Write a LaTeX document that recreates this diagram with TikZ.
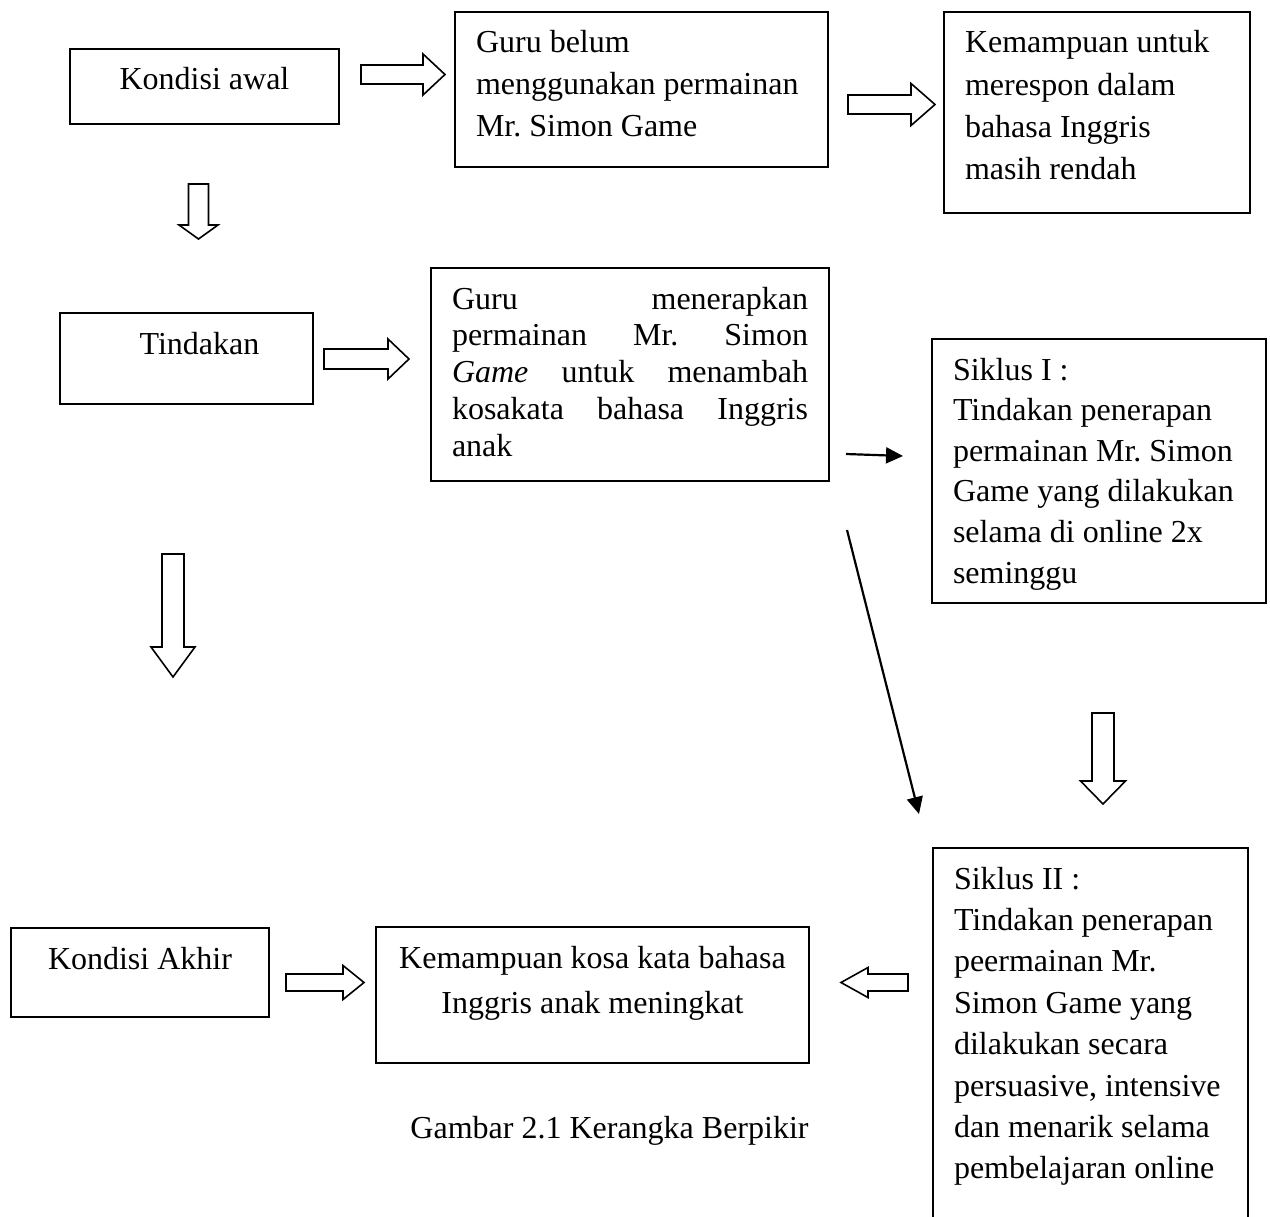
\documentclass[tikz,border=0pt]{standalone}
\usepackage{fontspec}
\setmainfont{Liberation Serif}
\usetikzlibrary{arrows.meta}
\usetikzlibrary{calc}
\frenchspacing
\tikzset{
	box/.style={
		draw=black,
		line width=2pt,
		anchor=north west,
		inner xsep=21pt,
		inner ysep=0pt,
		outer sep=0pt,
	},
	fat shaft/.store in=\fatshaft,
	fat head/.store in=\fathead,
	fat len/.store in=\fatlen,
	fat shaft=10pt,
	fat head=21pt,
	fat len=22pt,
	fat/.style={
		draw=black,
		line width=1.6pt,
		line join=miter,
		to path={
			($(\tikztostart)!\fatshaft!90:(\tikztotarget)$)
			-- ($(\tikztotarget)!\fatlen!(\tikztostart)!\fatshaft!-90:(\tikztostart)$)
			-- ($(\tikztotarget)!\fatlen!(\tikztostart)!\fathead!-90:(\tikztostart)$)
			-- (\tikztotarget)
			-- ($(\tikztotarget)!\fatlen!(\tikztostart)!\fathead!90:(\tikztostart)$)
			-- ($(\tikztotarget)!\fatlen!(\tikztostart)!\fatshaft!90:(\tikztostart)$)
			-- ($(\tikztostart)!\fatshaft!-90:(\tikztotarget)$)
			-- cycle
		},
	},
	arrow/.style={
		-{Triangle[length=17pt,width=16pt]},
		line width=2.2pt,
	},
}
% text block of a box: width, height, line skip, alignment, text
\newcommand{\inbox}[5]{\parbox[c][#2pt][t]{#1pt}{\fontsize{32}{#3}\selectfont#4\rule{0pt}{41pt}#5}}

\begin{document}
\begin{tikzpicture}[x=1pt, y=-1pt, font=\fontsize{32}{42}\selectfont]
		\useasboundingbox (0,0) rectangle (1270,1217);
		\clip (0,0) rectangle (1270,1217);

		% Kondisi awal
		\node[box] (ka) at (70,49) {\inbox{227}{75}{42}{\centering}{Kondisi awal}};
		\node[box] (g1) at (455,12) {\inbox{331}{155}{42}{\raggedright}{Guru belum\\menggunakan permainan\\Mr. Simon Game}};
		\node[box] (k1) at (944,12) {\inbox{264}{201}{42.3}{\raggedright}{Kemampuan untuk\\merespon dalam\\bahasa Inggris\\masih rendah}};

		% Tindakan
		\node[box] (td) at (60,313) {\inbox{211}{91}{42}{\centering}{\hspace*{26pt}Tindakan}};
		\node[box] (g2) at (431,268) {\inbox{356}{213}{36.8}{}{Guru menerapkan\linebreak permainan Mr. Simon\linebreak \textit{Game} untuk menambah\linebreak kosakata bahasa Inggris\linebreak anak}};
		\node[box] (s1) at (932,339) {\inbox{292}{264}{40.6}{\raggedright}{Siklus I :\\Tindakan penerapan\\permainan Mr. Simon\\Game yang dilakukan\\selama di online 2x\\seminggu}};

		% Kondisi akhir
		\node[box] (kk) at (11,928) {\inbox{216}{89}{42}{\centering}{Kondisi Akhir}};
		\node[box] (km) at (376,927) {\inbox{391}{136}{45}{\centering}{Kemampuan kosa kata bahasa\\Inggris anak meningkat}};
		\node[box] (s2) at (933,848) {\inbox{273}{420}{41.4}{\raggedright}{Siklus II :\\Tindakan penerapan\\peermainan Mr.\\Simon Game yang\\dilakukan secara\\persuasive, intensive\\dan menarik selama\\pembelajaran online}};

		\node[anchor=base] (cap) at (609.5,1138) {Gambar 2.1 Kerangka Berpikir};

		% arrow ends
		\coordinate (a1s) at ($(ka.east)+(22,-12)$);
		\coordinate (a1e) at ($(g1.west)+(-10,-15)$);
		\coordinate (a2s) at ($(g1.east)+(20,15)$);
		\coordinate (a2e) at ($(k1.west)+(-9,-8)$);
		\coordinate (a3s) at ($(ka.south)+(-6,60)$);
		\coordinate (a3e) at ($(td.north)+(12,-74)$);
		\coordinate (a4s) at ($(td.east)+(11,0.5)$);
		\coordinate (a4e) at ($(g2.west)+(-22,-15.5)$);
		\coordinate (a5s) at ($(td.south)+(-13.5,150)$);
		\coordinate (a5e) at ($(kk.north)+(33,-251)$);
		\coordinate (a6s) at ($(s1.south)+(4,110)$);
		\coordinate (a6e) at ($(s2.north)+(12.5,-44)$);
		\coordinate (a7s) at ($(kk.east)+(17,10)$);
		\coordinate (a7e) at ($(km.west)+(-12,-12.5)$);
		\coordinate (a8s) at ($(s2.west)+(-25,-75.5)$);
		\coordinate (a8e) at ($(km.east)+(32,-12.5)$);
		\coordinate (t1s) at ($(g2.east)+(17,79.5)$);
		\coordinate (t1e) at ($(s1.west)+(-29,-15)$);
		\coordinate (t2s) at ($(g2.south east)+(18,49)$);
		\coordinate (t2e) at ($(s2.north west)+(-14,-34)$);

		\draw[fat, fat shaft=9.5pt, fat head=20.5pt, fat len=22pt] (a1s) to (a1e);
		\draw[fat, fat shaft=9.5pt, fat head=21pt, fat len=24pt] (a2s) to (a2e);
		\draw[fat, fat shaft=10pt, fat head=19.5pt, fat len=14pt] (a3s) to (a3e);
		\draw[fat, fat shaft=10pt, fat head=20pt, fat len=21pt] (a4s) to (a4e);
		\draw[fat, fat shaft=11pt, fat head=22pt, fat len=30pt] (a5s) to (a5e);
		\draw[fat, fat shaft=11pt, fat head=22.5pt, fat len=23pt] (a6s) to (a6e);
		\draw[fat, fat shaft=8.5pt, fat head=17pt, fat len=21pt] (a7s) to (a7e);
		\draw[fat, fat shaft=8.5pt, fat head=15pt, fat len=27pt] (a8s) to (a8e);

		\draw[arrow] (t1s) -- (t1e);
		\draw[arrow] (t2s) -- (t2e);

	\end{tikzpicture}
\end{document}
